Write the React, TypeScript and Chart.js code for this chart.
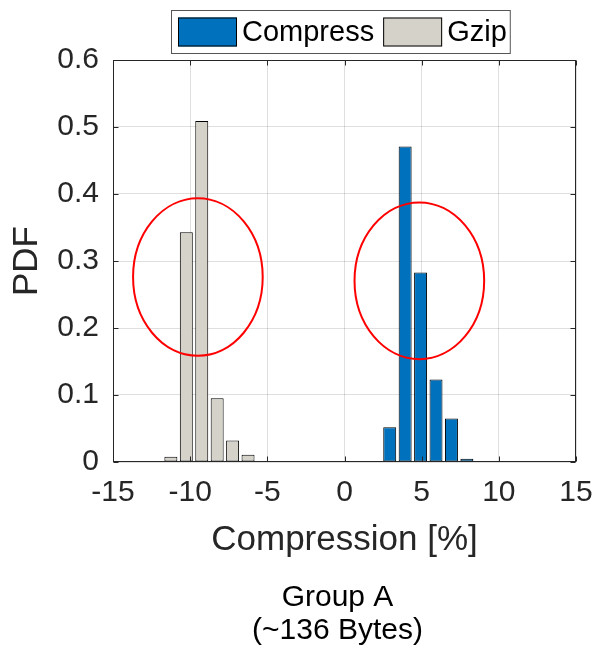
import React, { useEffect, useRef } from 'react';
import { Chart, registerables } from 'chart.js';

Chart.register(...registerables);

// ---------- data ----------
const seriesLabels = ['Compress', 'Gzip'];
const seriesColors = ['#0072BD', '#D5D2CA'];

const compressBins = [1.93, 2.93, 3.93, 4.93, 5.93, 6.93, 7.93, 8.93];
const compressPdf = [0.0008, 0.052, 0.471, 0.283, 0.123, 0.065, 0.005, 0.0008];

const gzipBins = [-12.25, -11.25, -10.25, -9.25, -8.25, -7.25, -6.25, -5.25, -4.25];
const gzipPdf = [0.0008, 0.008, 0.343, 0.509, 0.095, 0.032, 0.011, 0.0012, 0.0008];

const xTicks = [-15, -10, -5, 0, 5, 10, 15];
const yTicks = [0, 0.1, 0.2, 0.3, 0.4, 0.5, 0.6];

const xAxisTitle = 'Compression [%]';
const yAxisTitle = 'PDF';
const captionLines = ['Group A', '(~136 Bytes)'];

// red ellipse annotations (data units)
const ellipseCenterX = [-9.5, 4.85];
const ellipseCenterY = [0.276, 0.2705];
const ellipseRadiusX = [4.2, 4.2];
const ellipseRadiusY = [0.1175, 0.117];

const FONT = '"Liberation Sans", Arial, Helvetica, sans-serif';
const AX = '#262626';

const framePlugin = {
  id: 'frameTicks',
  afterDatasetsDraw(chart: any) {
    const { ctx, chartArea: ca, scales } = chart;
    ctx.save();
    // ellipses
    ctx.strokeStyle = '#FF0000';
    ctx.lineWidth = 2;
    for (let i = 0; i < ellipseCenterX.length; i++) {
      const cx = scales.x.getPixelForValue(ellipseCenterX[i]);
      const cy = scales.y.getPixelForValue(ellipseCenterY[i]);
      const rx = Math.abs(scales.x.getPixelForValue(ellipseCenterX[i] + ellipseRadiusX[i]) - cx);
      const ry = Math.abs(scales.y.getPixelForValue(ellipseCenterY[i] + ellipseRadiusY[i]) - cy);
      ctx.beginPath();
      ctx.ellipse(cx, cy, rx, ry, 0, 0, Math.PI * 2);
      ctx.stroke();
    }
    // frame
    ctx.strokeStyle = AX;
    ctx.lineWidth = 1;
    const l = Math.round(ca.left) + 0.5;
    const r = Math.round(ca.right) - 0.5;
    const t = Math.round(ca.top) + 0.5;
    const b = Math.round(ca.bottom) - 0.5;
    ctx.strokeRect(l, t, r - l, b - t);
    const tl = 5;
    ctx.beginPath();
    xTicks.forEach((v) => {
      const px = Math.round(scales.x.getPixelForValue(v)) + 0.5;
      ctx.moveTo(px, b);
      ctx.lineTo(px, b - tl);
      ctx.moveTo(px, t);
      ctx.lineTo(px, t + tl);
    });
    yTicks.forEach((v) => {
      const py = Math.round(scales.y.getPixelForValue(v)) + 0.5;
      ctx.moveTo(l, py);
      ctx.lineTo(l + tl, py);
      ctx.moveTo(r, py);
      ctx.lineTo(r - tl, py);
    });
    ctx.stroke();
    ctx.restore();
  },
};

const legendPlugin = {
  id: 'boxLegend',
  afterDraw(chart: any) {
    const { ctx, chartArea: ca } = chart;
    ctx.save();
    ctx.font = `29px ${FONT}`;
    const sw = 59, sh = 29, gapText = 5, gapItem = 9, padL = 7, padR = 4;
    const items = chart.data.datasets.map((ds: any) => ({
      label: ds.label,
      color: ds.backgroundColor,
      w: ctx.measureText(ds.label).width,
    }));
    let total = padL + padR + gapItem * (items.length - 1);
    items.forEach((it: any) => (total += sw + gapText + it.w));
    const top = 10, boxH = 44;
    const left = Math.round((ca.left + ca.right) / 2 - total / 2) - 4;
    ctx.fillStyle = '#fff';
    ctx.fillRect(left, top, total, boxH);
    ctx.strokeStyle = '#555';
    ctx.lineWidth = 1;
    ctx.strokeRect(left + 0.5, top + 0.5, total - 1, boxH - 1);
    let x = left + padL;
    const cy = top + boxH / 2;
    items.forEach((it: any) => {
      ctx.fillStyle = it.color;
      ctx.fillRect(x, cy - sh / 2, sw, sh);
      ctx.strokeStyle = '#000';
      ctx.strokeRect(x + 0.5, cy - sh / 2 + 0.5, sw - 1, sh - 1);
      x += sw + gapText;
      ctx.fillStyle = '#000';
      ctx.textBaseline = 'middle';
      ctx.textAlign = 'left';
      ctx.fillText(it.label, x, cy + 1);
      x += it.w + gapItem;
    });

    // caption below the x-axis title
    ctx.font = `30px ${FONT}`;
    ctx.fillStyle = '#000';
    ctx.textAlign = 'center';
    ctx.textBaseline = 'alphabetic';
    const capX = (ca.left + ca.right) / 2 - 7;
    captionLines.forEach((line, i) => {
      ctx.fillText(line, capX, ca.bottom + 144 + i * 33);
    });
    ctx.restore();
  },
};

export default function App() {
  const canvasRef = useRef<HTMLCanvasElement | null>(null);

  useEffect(() => {
    if (!canvasRef.current) return;
    const chart = new Chart(canvasRef.current, {
      type: 'bar',
      data: {
        datasets: [
          {
            label: seriesLabels[0],
            data: compressBins.map((x, i) => ({ x, y: compressPdf[i] })),
            backgroundColor: seriesColors[0],
            borderColor: '#000',
            borderWidth: 1,
            borderSkipped: false,
            barPercentage: 0.84,
            categoryPercentage: 1,
            grouped: false,
          },
          {
            label: seriesLabels[1],
            data: gzipBins.map((x, i) => ({ x, y: gzipPdf[i] })),
            backgroundColor: seriesColors[1],
            borderColor: '#000',
            borderWidth: 1,
            borderSkipped: false,
            barPercentage: 0.84,
            categoryPercentage: 1,
            grouped: false,
          },
        ],
      },
      options: {
        animation: false,
        responsive: true,
        maintainAspectRatio: false,
        layout: { padding: { top: 60, right: 21, left: 0, bottom: 0 } },
        plugins: {
          legend: { display: false },
          tooltip: { enabled: false },
          title: { display: false },
        },
        scales: {
          x: {
            type: 'linear',
            min: -15,
            max: 15,
            offset: false,
            afterBuildTicks: (s: any) => {
              s.ticks = xTicks.map((v) => ({ value: v }));
            },
            afterFit: (s: any) => {
              s.height = 187;
              s.paddingLeft = 0;
              s.paddingRight = 0;
            },
            grid: { color: 'rgba(38,38,38,0.15)', drawTicks: false, offset: false },
            border: { display: false },
            ticks: {
              color: AX,
              padding: 13,
              maxRotation: 0,
              autoSkip: false,
              font: { family: FONT, size: 30 },
              callback: (v: any) => String(v),
            },
            title: {
              display: true,
              text: xAxisTitle,
              color: AX,
              font: { family: FONT, size: 35 },
              padding: { top: 0, bottom: 88 },
            },
          },
          y: {
            type: 'linear',
            min: 0,
            max: 0.6,
            afterBuildTicks: (s: any) => {
              s.ticks = yTicks.map((v) => ({ value: v }));
            },
            afterFit: (s: any) => {
              s.width = 113;
              s.paddingTop = 0;
              s.paddingBottom = 0;
            },
            grid: { color: 'rgba(38,38,38,0.15)', drawTicks: false },
            border: { display: false },
            ticks: {
              color: AX,
              padding: 14,
              autoSkip: false,
              font: { family: FONT, size: 30 },
              callback: (v: any) => String(Number(Number(v).toFixed(1))),
            },
            title: {
              display: true,
              text: yAxisTitle,
              color: AX,
              font: { family: FONT, size: 35 },
              padding: { top: 6, bottom: 0 },
            },
          },
        },
      } as any,
      plugins: [framePlugin, legendPlugin],
    });
    return () => chart.destroy();
  }, []);

  return (
    <div style={{ position: 'absolute', left: 0, top: 0, width: 597, height: 649 }}>
      <canvas ref={canvasRef} />
    </div>
  );
}
